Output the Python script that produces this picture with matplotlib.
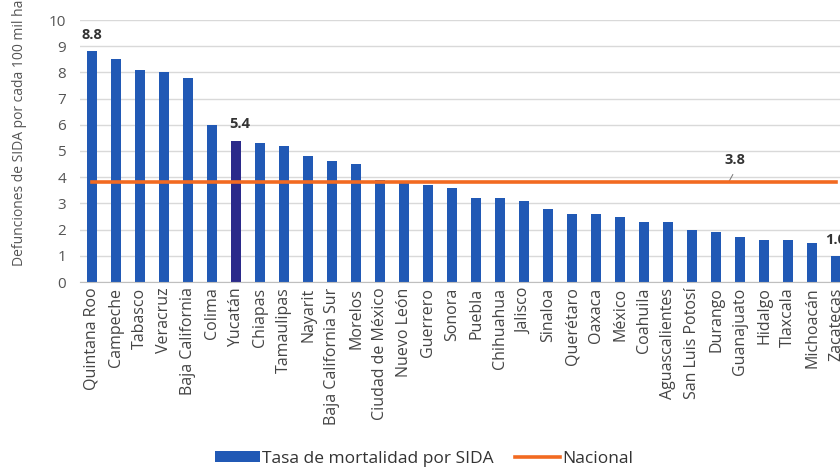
import matplotlib.pyplot as plt
import numpy as np

plt.rcParams['font.family'] = ['Open Sans', 'DejaVu Sans']

# datos por entidad
estados = ["Quintana Roo", "Campeche", "Tabasco", "Veracruz", "Baja California",
           "Colima", "Yucatán", "Chiapas", "Tamaulipas", "Nayarit",
           "Baja California Sur", "Morelos", "Ciudad de México", "Nuevo León",
           "Guerrero", "Sonora", "Puebla", "Chihuahua", "Jalisco", "Sinaloa",
           "Querétaro", "Oaxaca", "México", "Coahuila", "Aguascalientes",
           "San Luis Potosí", "Durango", "Guanajuato", "Hidalgo", "Tlaxcala",
           "Michoacán", "Zacatecas"]
tasa = [8.8, 8.5, 8.1, 8.0, 7.8, 6.0, 5.4, 5.3, 5.2, 4.8, 4.6, 4.5, 3.9, 3.8,
        3.7, 3.6, 3.2, 3.2, 3.1, 2.8, 2.6, 2.6, 2.5, 2.3, 2.3, 2.0, 1.9, 1.7,
        1.6, 1.6, 1.5, 1.0]
nacional = 3.8
etiquetas = {"Quintana Roo": "8.8", "Yucatán": "5.4", "Zacatecas": "1.0"}

azul = "#2159b5"
azul_osc = "#2b2a8a"
naranja = "#f26a21"

fig = plt.figure(figsize=(8.4, 4.72), dpi=100)
ax = fig.add_axes([80 / 840, 1 - 282 / 472, 768 / 840, 262 / 472])

x = np.arange(len(estados))
colores = [azul_osc if e == "Yucatán" else azul for e in estados]
barras = ax.bar(x, tasa, width=0.42, color=colores, zorder=2)
linea, = ax.plot(x, [nacional] * len(x), color=naranja, lw=2.6, zorder=3)

for i, e in enumerate(estados):
    if e in etiquetas:
        dx = 0.15 if e == "Yucatán" else 0
        ax.text(i + dx, tasa[i] + 0.35, etiquetas[e], ha='center', va='bottom',
                fontsize=10.5, fontweight='bold', color="#333333")

# etiqueta de la línea nacional
ax.text(26.8, nacional + 0.6, "3.8", ha='center', va='bottom', fontsize=10.5,
        fontweight='bold', color="#333333")
ax.plot([26.55, 26.7], [nacional + 0.05, nacional + 0.3], color="#777777", lw=0.7)

ax.set_xlim(-0.5, len(estados) - 0.5)
ax.set_ylim(0, 10)
ax.set_yticks(range(0, 11))
ax.set_xticks(x)
ax.set_xticklabels(estados, rotation=90, fontsize=11.5, color="#444444")
ax.tick_params(axis='y', labelsize=11, colors="#555555", length=0, pad=10)
ax.tick_params(axis='x', length=0, pad=4)
ax.grid(axis='y', color="#d9d9d9", lw=1, zorder=0)
for s in ["top", "right", "left"]:
    ax.spines[s].set_visible(False)
ax.spines["bottom"].set_color("#bfbfbf")

fig.text(20 / 840, 1 - 266 / 472, "Defunciones de SIDA por cada 100 mil habitantes",
         rotation=90, ha='center', va='bottom', fontsize=10, color="#555555")

fig.legend([barras.patches[0], linea], ["Tasa de mortalidad por SIDA", "Nacional"],
           loc='center', bbox_to_anchor=(0.505, 1 - 459 / 472), ncol=2,
           frameon=False, fontsize=12.5, handlelength=2.6, handleheight=0.6,
           columnspacing=1.2, handletextpad=0.15, labelcolor="#333333")

fig.savefig("out.png", dpi=100)
